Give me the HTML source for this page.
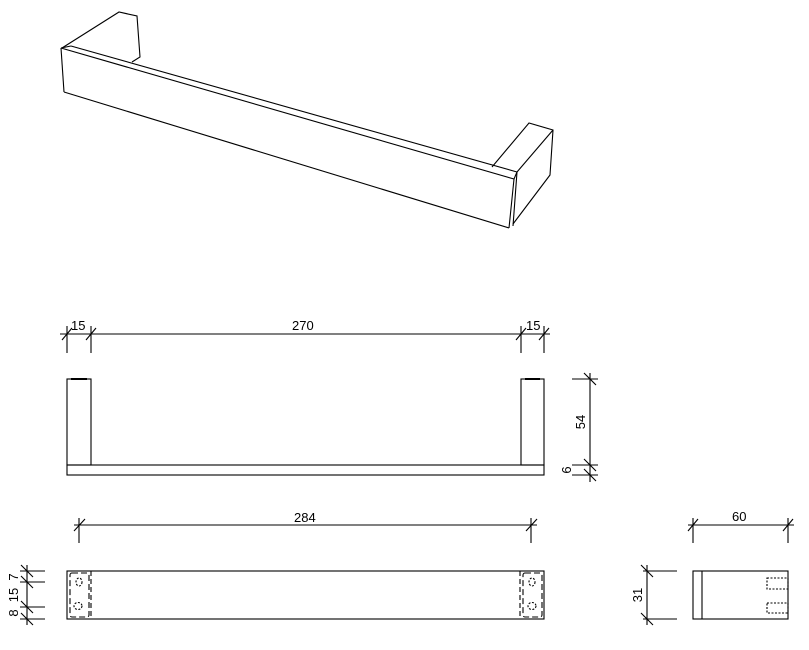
<!DOCTYPE html>
<html><head><meta charset="utf-8"><style>
html,body{margin:0;padding:0;background:#fff;}
svg{display:block}
text{font-family:"Liberation Sans",Arial,sans-serif;font-size:13px;fill:#000}
</style></head><body>
<svg width="809" height="650" viewBox="0 0 809 650" xmlns="http://www.w3.org/2000/svg">
<g fill="none" stroke="#000" stroke-width="1.1">
<!-- iso view -->
<polyline points="62,48 119,12 137,16 140,57 132,62"/>
<line x1="61" y1="48" x2="71" y2="46"/>
<line x1="61" y1="48" x2="514" y2="179"/>
<line x1="71" y1="46" x2="517" y2="172"/>
<line x1="61" y1="48" x2="64" y2="92"/>
<line x1="64" y1="92" x2="509" y2="228"/>
<line x1="514" y1="179" x2="509" y2="228"/>
<line x1="517" y1="172" x2="513" y2="226"/>
<line x1="514" y1="179" x2="517" y2="172"/>
<polyline points="492,167 529,123 553,130 550,175 513,224"/>
<line x1="553" y1="130" x2="517" y2="172"/>

<!-- front view -->
<line x1="60" y1="334" x2="550" y2="334"/>
<line x1="67" y1="326" x2="67" y2="353"/>
<line x1="91" y1="326" x2="91" y2="353"/>
<line x1="521" y1="326" x2="521" y2="353"/>
<line x1="544" y1="326" x2="544" y2="353"/>
<line x1="62" y1="340" x2="72" y2="328"/>
<line x1="86" y1="340" x2="96" y2="328"/>
<line x1="516" y1="340" x2="526" y2="328"/>
<line x1="539" y1="340" x2="549" y2="328"/>
<rect x="67" y="379" width="24" height="86"/>
<rect x="521" y="379" width="23" height="86"/>
<line x1="71" y1="379" x2="87" y2="379" stroke-width="2"/>
<line x1="525" y1="379" x2="540" y2="379" stroke-width="2"/>
<rect x="67" y="465" width="477" height="10"/>
<line x1="590" y1="373" x2="590" y2="482"/>
<line x1="572" y1="379" x2="598" y2="379"/>
<line x1="572" y1="465" x2="598" y2="465"/>
<line x1="572" y1="475" x2="598" y2="475"/>
<line x1="584" y1="373" x2="596" y2="385"/>
<line x1="584" y1="459" x2="596" y2="471"/>
<line x1="584" y1="469" x2="596" y2="481"/>

<!-- top view -->
<line x1="74" y1="525" x2="537" y2="525"/>
<line x1="79" y1="518" x2="79" y2="543"/>
<line x1="531" y1="518" x2="531" y2="543"/>
<line x1="74" y1="531" x2="85" y2="519"/>
<line x1="526" y1="531" x2="537" y2="519"/>
<rect x="67" y="571" width="477" height="48"/>
<line x1="91" y1="571" x2="91" y2="619" stroke-dasharray="5,3"/>
<line x1="520" y1="571" x2="520" y2="619" stroke-dasharray="5,3"/>
<rect x="70" y="573" width="19" height="44" rx="2" stroke-dasharray="6,3"/>
<rect x="523" y="573" width="19" height="44" rx="2" stroke-dasharray="6,3"/>
<ellipse cx="79" cy="582" rx="3" ry="4" stroke-dasharray="2,1.5"/>
<ellipse cx="78" cy="606" rx="4" ry="3.5" stroke-dasharray="2,1.5"/>
<ellipse cx="532" cy="582" rx="3" ry="4" stroke-dasharray="2,1.5"/>
<ellipse cx="532" cy="606" rx="4" ry="3.5" stroke-dasharray="2,1.5"/>
<line x1="27" y1="565" x2="27" y2="625"/>
<line x1="20" y1="571" x2="45" y2="571"/>
<line x1="20" y1="582" x2="45" y2="582"/>
<line x1="20" y1="607" x2="45" y2="607"/>
<line x1="20" y1="619" x2="45" y2="619"/>
<line x1="21" y1="565" x2="33" y2="577"/>
<line x1="21" y1="576" x2="33" y2="588"/>
<line x1="21" y1="601" x2="33" y2="613"/>
<line x1="21" y1="613" x2="33" y2="625"/>

<!-- side view -->
<line x1="688" y1="525" x2="794" y2="525"/>
<line x1="693" y1="518" x2="693" y2="543"/>
<line x1="788" y1="518" x2="788" y2="543"/>
<line x1="688" y1="531" x2="698" y2="519"/>
<line x1="783" y1="531" x2="793" y2="519"/>
<rect x="693" y="571" width="95" height="48"/>
<line x1="702" y1="571" x2="702" y2="619"/>
<rect x="767" y="578" width="21" height="11" stroke-dasharray="2,1.5"/>
<rect x="767" y="603" width="21" height="10" stroke-dasharray="2,1.5"/>
<line x1="647" y1="565" x2="647" y2="625"/>
<line x1="643" y1="571" x2="677" y2="571"/>
<line x1="643" y1="619" x2="677" y2="619"/>
<line x1="641" y1="565" x2="653" y2="577"/>
<line x1="641" y1="613" x2="653" y2="625"/>
</g>
<text x="71" y="330">15</text>
<text x="292" y="330">270</text>
<text x="526" y="330">15</text>
<text x="294" y="522">284</text>
<text x="732" y="521">60</text>
<text transform="translate(585,422) rotate(-90)" text-anchor="middle">54</text>
<text transform="translate(571,470) rotate(-90)" text-anchor="middle">6</text>
<text transform="translate(18,577) rotate(-90)" text-anchor="middle">7</text>
<text transform="translate(18,595) rotate(-90)" text-anchor="middle">15</text>
<text transform="translate(18,613) rotate(-90)" text-anchor="middle">8</text>
<text transform="translate(642,595) rotate(-90)" text-anchor="middle">31</text>
</svg>
</body></html>
